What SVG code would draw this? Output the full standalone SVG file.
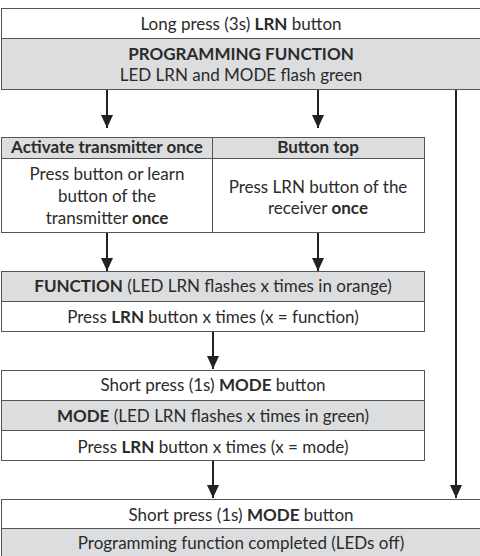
<svg xmlns="http://www.w3.org/2000/svg" width="480" height="556" viewBox="0 0 480 556">
  <defs>
    <marker id="arrow" markerWidth="13" markerHeight="12" refX="13" refY="6" orient="auto" markerUnits="userSpaceOnUse" viewBox="0 0 13 12">
      <path d="M0,0 L13,6 L0,12 Z" fill="#222"/>
    </marker>
  </defs>
  <style>
    .w { fill: #ffffff; stroke: #555; stroke-width: 1; }
    .g { fill: #dcdddf; stroke: #555; stroke-width: 1; }
    text { font-family: Lato, "Open Sans", "Liberation Sans", sans-serif; font-size: 17px; fill: #2b2b2b; text-anchor: middle; }
    .b { font-weight: bold; }
    .c { stroke: #222; stroke-width: 2; fill: none; }
  </style>
  <rect width="480" height="556" fill="#ffffff"/>

  <g id="connectors">
    <line class="c" x1="107" y1="89" x2="107" y2="128" marker-end="url(#arrow)"/>
    <line class="c" x1="318" y1="89" x2="318" y2="128" marker-end="url(#arrow)"/>
    <line class="c" x1="456" y1="89" x2="456" y2="498" marker-end="url(#arrow)"/>
    <line class="c" x1="107" y1="232" x2="107" y2="271" marker-end="url(#arrow)"/>
    <line class="c" x1="318" y1="232" x2="318" y2="271" marker-end="url(#arrow)"/>
    <line class="c" x1="213" y1="331" x2="213" y2="369" marker-end="url(#arrow)"/>
    <line class="c" x1="213" y1="461" x2="213" y2="498" marker-end="url(#arrow)"/>
  </g>

  <g id="start">
    <rect class="w" x="1.5" y="8.5" width="480" height="30"/>
    <rect class="g" x="1.5" y="38.5" width="480" height="51"/>
    <text x="241" y="30">Long press (3s) <tspan class="b">LRN</tspan> button</text>
    <text x="241" y="60" class="b">PROGRAMMING FUNCTION</text>
    <text x="241" y="81">LED LRN and MODE flash green</text>
  </g>

  <g id="transmitter">
    <rect class="g" x="1.5" y="137.5" width="211" height="21"/>
    <rect class="w" x="1.5" y="158.5" width="211" height="74"/>
    <text x="107" y="153" class="b">Activate transmitter once</text>
    <text x="107" y="180">Press button or learn</text>
    <text x="107" y="202">button of the</text>
    <text x="107" y="224">transmitter <tspan class="b">once</tspan></text>
  </g>

  <g id="button-top">
    <rect class="g" x="212.5" y="137.5" width="212" height="21"/>
    <rect class="w" x="212.5" y="158.5" width="212" height="74"/>
    <text x="318" y="153" class="b">Button top</text>
    <text x="318" y="193">Press LRN button of the</text>
    <text x="318" y="214">receiver <tspan class="b">once</tspan></text>
  </g>

  <g id="function">
    <rect class="g" x="1.5" y="271.5" width="423" height="30"/>
    <rect class="w" x="1.5" y="301.5" width="423" height="30"/>
    <text x="213" y="292"><tspan class="b">FUNCTION</tspan> (LED LRN flashes x times in orange)</text>
    <text x="213" y="323">Press <tspan class="b">LRN</tspan> button x times (x = function)</text>
  </g>

  <g id="mode">
    <rect class="w" x="1.5" y="370.5" width="423" height="30"/>
    <rect class="g" x="1.5" y="400.5" width="423" height="30"/>
    <rect class="w" x="1.5" y="430.5" width="423" height="30"/>
    <text x="213" y="391">Short press (1s) <tspan class="b">MODE</tspan> button</text>
    <text x="213" y="422"><tspan class="b">MODE</tspan> (LED LRN flashes x times in green)</text>
    <text x="213" y="453">Press <tspan class="b">LRN</tspan> button x times (x = mode)</text>
  </g>

  <g id="finish">
    <rect class="w" x="1.5" y="499.5" width="480" height="29"/>
    <rect class="g" x="1.5" y="528.5" width="480" height="30"/>
    <text x="241" y="521">Short press (1s) <tspan class="b">MODE</tspan> button</text>
    <text x="241" y="549">Programming function completed (LEDs off)</text>
  </g>
</svg>
